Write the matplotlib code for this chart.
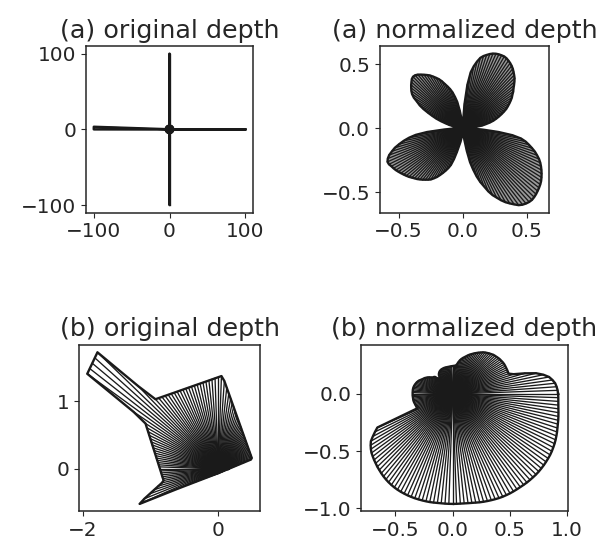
import numpy as np
import matplotlib.pyplot as plt

# one ray every 2 degrees, depth
angles = np.arange(0, 360, 2)

orig_a = [
    100, 5, 5, 5, 5, 5, 5, 5, 5, 5,
    5, 5, 5, 5, 5, 5, 5, 5, 5, 5,
    5, 5, 5, 5, 5, 5, 5, 5, 5, 5,
    5, 5, 5, 5, 5, 5, 5, 5, 5, 5,
    5, 5, 5, 5, 5, 100, 5, 5, 5, 5,
    5, 5, 5, 5, 5, 5, 5, 5, 5, 5,
    5, 5, 5, 5, 5, 5, 5, 5, 5, 5,
    5, 5, 5, 5, 5, 5, 5, 5, 5, 5,
    5, 5, 5, 5, 5, 5, 5, 5, 5, 100,
    100, 5, 5, 5, 5, 5, 5, 5, 5, 5,
    5, 5, 5, 5, 5, 5, 5, 5, 5, 5,
    5, 5, 5, 5, 5, 5, 5, 5, 5, 5,
    5, 5, 5, 5, 5, 5, 5, 5, 5, 5,
    5, 5, 5, 5, 5, 100, 5, 5, 5, 5,
    5, 5, 5, 5, 5, 5, 5, 5, 5, 5,
    5, 5, 5, 5, 5, 5, 5, 5, 5, 5,
    5, 5, 5, 5, 5, 5, 5, 5, 5, 5,
    5, 5, 5, 5, 5, 5, 5, 5, 5, 5,
]

norm_a = [
    0.05, 0.04, 0.06, 0.10, 0.15, 0.18, 0.215, 0.245, 0.27, 0.295,
    0.32, 0.345, 0.37, 0.39, 0.41, 0.43, 0.45, 0.465, 0.485, 0.50,
    0.52, 0.54, 0.56, 0.575, 0.59, 0.605, 0.617, 0.627, 0.635, 0.642,
    0.645, 0.643, 0.64, 0.635, 0.627, 0.615, 0.60, 0.585, 0.565, 0.53,
    0.49, 0.44, 0.34, 0.19, 0.05, 0.02, 0.02, 0.03, 0.05, 0.07,
    0.14, 0.21, 0.25, 0.29, 0.32, 0.345, 0.37, 0.40, 0.425, 0.445,
    0.465, 0.485, 0.50, 0.515, 0.53, 0.545, 0.555, 0.558, 0.552, 0.538,
    0.525, 0.51, 0.495, 0.477, 0.45, 0.41, 0.38, 0.34, 0.295, 0.255,
    0.22, 0.18, 0.14, 0.11, 0.08, 0.06, 0.04, 0.03, 0.03, 0.04,
    0.06, 0.08, 0.15, 0.28, 0.37, 0.425, 0.47, 0.51, 0.55, 0.58,
    0.61, 0.63, 0.642, 0.64, 0.63, 0.623, 0.615, 0.605, 0.595, 0.585,
    0.575, 0.565, 0.553, 0.542, 0.532, 0.52, 0.508, 0.495, 0.483, 0.47,
    0.45, 0.43, 0.405, 0.38, 0.355, 0.33, 0.30, 0.25, 0.19, 0.14,
    0.11, 0.08, 0.06, 0.04, 0.03, 0.03, 0.03, 0.04, 0.05, 0.10,
    0.18, 0.27, 0.33, 0.39, 0.44, 0.48, 0.53, 0.57, 0.60, 0.635,
    0.665, 0.69, 0.715, 0.74, 0.755, 0.765, 0.772, 0.775, 0.772, 0.767,
    0.76, 0.753, 0.745, 0.735, 0.722, 0.708, 0.693, 0.677, 0.66, 0.64,
    0.615, 0.59, 0.56, 0.53, 0.50, 0.46, 0.39, 0.28, 0.16, 0.08,
]

orig_b = [
    0.151, 0.165, 0.182, 0.203, 0.230, 0.266, 0.315, 0.387, 0.503, 0.521,
    0.521, 0.521, 0.523, 0.524, 0.527, 0.530, 0.533, 0.538, 0.543, 0.549,
    0.556, 0.564, 0.572, 0.582, 0.592, 0.604, 0.617, 0.632, 0.647, 0.665,
    0.684, 0.706, 0.729, 0.756, 0.785, 0.818, 0.854, 0.895, 0.942, 0.995,
    1.055, 1.125, 1.207, 1.302, 1.372, 1.354, 1.339, 1.325, 1.313, 1.303,
    1.295, 1.289, 1.284, 1.280, 1.278, 1.278, 1.279, 1.282, 1.287, 1.293,
    1.300, 1.310, 1.321, 1.334, 1.349, 1.366, 1.385, 1.697, 2.479, 2.452,
    2.428, 2.408, 2.39, 1.508, 1.266, 1.217, 1.173, 1.133, 1.097, 1.065,
    1.036, 1.009, 0.985, 0.963, 0.943, 0.925, 0.909, 0.895, 0.882, 0.870,
    0.860, 0.851, 0.844, 0.837, 0.832, 0.827, 0.824, 0.859, 0.920, 0.990,
    1.075, 1.176, 1.27, 0.676, 0.485, 0.378, 0.310, 0.264, 0.229, 0.203,
    0.182, 0.166, 0.152, 0.141, 0.131, 0.123, 0.115, 0.109, 0.104, 0.099,
    0.094, 0.091, 0.087, 0.084, 0.081, 0.079, 0.077, 0.074, 0.072, 0.071,
    0.069, 0.068, 0.066, 0.065, 0.064, 0.063, 0.062, 0.061, 0.061, 0.060,
    0.060, 0.059, 0.059, 0.058, 0.058, 0.058, 0.058, 0.058, 0.058, 0.058,
    0.059, 0.059, 0.059, 0.060, 0.060, 0.061, 0.062, 0.062, 0.063, 0.064,
    0.065, 0.067, 0.068, 0.070, 0.071, 0.073, 0.075, 0.077, 0.080, 0.083,
    0.086, 0.089, 0.093, 0.097, 0.102, 0.108, 0.114, 0.121, 0.130, 0.139,
]

norm_b = [
    0.921, 0.917, 0.91, 0.90, 0.88, 0.855, 0.81, 0.75, 0.655, 0.56,
    0.52, 0.52, 0.52, 0.52, 0.52, 0.52, 0.518, 0.515, 0.512, 0.508,
    0.503, 0.498, 0.493, 0.485, 0.477, 0.468, 0.46, 0.45, 0.438, 0.426,
    0.414, 0.402, 0.39, 0.378, 0.366, 0.352, 0.34, 0.328, 0.315, 0.30,
    0.28, 0.26, 0.25, 0.248, 0.246, 0.244, 0.243, 0.242, 0.241, 0.241,
    0.24, 0.24, 0.24, 0.24, 0.24, 0.239, 0.238, 0.237, 0.235, 0.232,
    0.228, 0.222, 0.215, 0.205, 0.185, 0.16, 0.14, 0.19, 0.215, 0.222,
    0.225, 0.235, 0.248, 0.26, 0.27, 0.28, 0.287, 0.295, 0.305, 0.315,
    0.323, 0.33, 0.335, 0.34, 0.344, 0.347, 0.349, 0.35, 0.35, 0.35,
    0.35, 0.35, 0.349, 0.348, 0.348, 0.347, 0.345, 0.342, 0.34, 0.337,
    0.335, 0.33, 0.72, 0.755, 0.79, 0.825, 0.845, 0.862, 0.876, 0.886,
    0.896, 0.905, 0.915, 0.923, 0.932, 0.94, 0.947, 0.953, 0.958, 0.962,
    0.965, 0.967, 0.968, 0.969, 0.969, 0.969, 0.968, 0.967, 0.966, 0.965,
    0.963, 0.961, 0.96, 0.96, 0.96, 0.96, 0.96, 0.96, 0.961, 0.963,
    0.966, 0.97, 0.975, 0.979, 0.983, 0.987, 0.991, 0.995, 0.998, 1.0,
    1.002, 1.003, 1.004, 1.005, 1.007, 1.009, 1.01, 1.011, 1.012, 1.012,
    1.011, 1.01, 1.008, 1.006, 1.004, 1.0, 0.995, 0.99, 0.984, 0.977,
    0.97, 0.962, 0.956, 0.95, 0.944, 0.938, 0.932, 0.928, 0.925, 0.923,
]

titles = ["(a) original depth", "(a) normalized depth",
          "(b) original depth", "(b) normalized depth"]
xticks = [[-100, 0, 100], [-0.5, 0.0, 0.5], [-2, 0], [-0.5, 0.0, 0.5, 1.0]]
yticks = [[-100, 0, 100], [-0.5, 0.0, 0.5], [0, 1], [-1.0, -0.5, 0.0]]

ink = "#1a1a1a"
plt.rcParams.update({
    "font.family": "DejaVu Sans",
    "text.color": "#262626",
    "axes.edgecolor": "#262626",
    "axes.linewidth": 1.1,
    "xtick.color": "#262626",
    "ytick.color": "#262626",
    "xtick.labelsize": 14.4,
    "ytick.labelsize": 14.4,
    "axes.titlesize": 18.3,
})


def plotDepth(ax, depth, title, fill=False):
    th = np.deg2rad(angles)
    r = np.asarray(depth, dtype=float)
    x = r * np.cos(th)
    y = r * np.sin(th)
    if fill:
        ax.fill(x, y, color="0.6", lw=0)
    # spokes from the centre to every boundary point
    ax.plot(np.vstack([np.zeros_like(x), x]), np.vstack([np.zeros_like(y), y]),
            color=ink, lw=0.95)
    ax.plot(np.append(x, x[0]), np.append(y, y[0]), color=ink, lw=1.7)
    ax.set_aspect("equal")
    ax.set_title(title)


fig, axes = plt.subplots(2, 2, figsize=(6.01, 5.45), dpi=100)
fig.subplots_adjust(left=0.104, right=0.951, top=0.9156, bottom=0.0615,
                    wspace=0.3785, hspace=0.7916)

data = [orig_a, norm_a, orig_b, norm_b]
for i, ax in enumerate(axes.flat):
    plotDepth(ax, data[i], titles[i], fill=(i < 2))
    ax.set_xticks(xticks[i])
    ax.set_yticks(yticks[i])

fig.savefig("out.png", dpi=100)
